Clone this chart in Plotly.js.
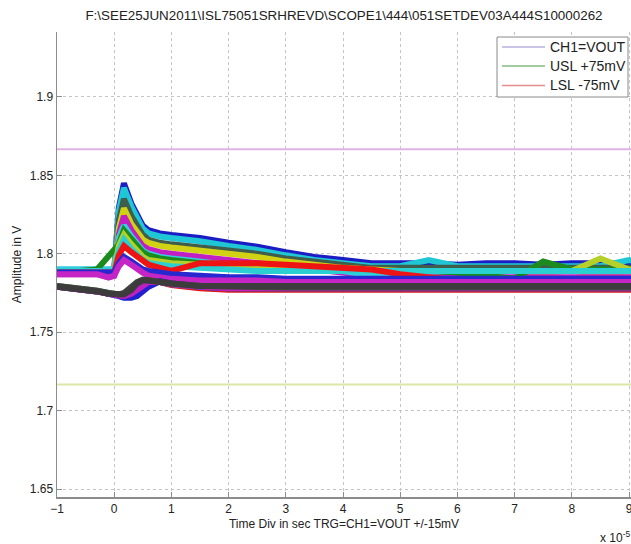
<!DOCTYPE html>
<html>
<head>
<meta charset="utf-8">
<script src="https://cdn.plot.ly/plotly-3.0.1.min.js"></script>
<style>
  html, body { margin: 0; padding: 0; background: #fff; }
  #chart { width: 631px; height: 544px; }
</style>
</head>
<body>
<div id="chart"></div>
<script>
// ---- Data (time in units of 1e-5 s, amplitude in V) ----
const chartTitle = "F:\\SEE25JUN2011\\ISL75051SRHREVD\\SCOPE1\\444\\051SETDEV03A444S10000262";
const timeDiv = [-1,-0.6,-0.3,-0.1,0,0.08,0.17,0.3,0.4,0.5,0.6,0.8,1,1.5,2,2.5,3,3.5,4,4.5,5,5.5,6,6.5,7,7.5,8,8.5,9,9.5];

const legendNames = ["CH1=VOUT", "USL +75mV", "LSL -75mV"];
const legendColors = ["#b6b2e2", "#80bb80", "#e58c8c"];

const uslValue = 1.8666;
const lslValue = 1.7166;

// upper group of captures (transient spike after trigger)
const vBlue1   = [1.789,1.789,1.789,1.789,1.789,1.829,1.845,1.832,1.825,1.818,1.815,1.813,1.812,1.810,1.807,1.8045,1.801,1.798,1.796,1.794,1.794,1.794,1.793,1.794,1.794,1.793,1.794,1.794,1.794,1.794];
const vCyan1   = [1.790,1.790,1.790,1.790,1.790,1.827,1.842,1.830,1.823,1.816,1.813,1.811,1.810,1.808,1.805,1.8025,1.799,1.796,1.794,1.792,1.792,1.796,1.792,1.792,1.792,1.792,1.792,1.792,1.796,1.792];
const vDark1   = [1.788,1.788,1.788,1.788,1.788,1.821,1.835,1.824,1.818,1.812,1.809,1.807,1.806,1.804,1.802,1.800,1.797,1.795,1.793,1.791,1.791,1.791,1.791,1.791,1.791,1.791,1.791,1.791,1.791,1.791];
const vYellow1 = [1.789,1.789,1.789,1.789,1.789,1.816,1.829,1.819,1.814,1.809,1.807,1.805,1.804,1.802,1.800,1.798,1.795,1.793,1.791,1.790,1.789,1.789,1.789,1.789,1.789,1.786,1.784,1.788,1.789,1.789];
const vMagenta1= [1.787,1.787,1.787,1.785,1.786,1.812,1.824,1.815,1.810,1.805,1.803,1.801,1.800,1.798,1.796,1.794,1.792,1.790,1.788,1.786,1.785,1.785,1.785,1.785,1.785,1.785,1.785,1.785,1.785,1.785];
const vCyan2   = [1.790,1.790,1.790,1.790,1.790,1.810,1.818,1.811,1.806,1.802,1.800,1.798,1.797,1.795,1.793,1.791,1.790,1.789,1.789,1.786,1.789,1.789,1.789,1.789,1.789,1.789,1.789,1.789,1.789,1.789];
const vGreen1  = [1.789,1.789,1.790,1.798,1.802,1.806,1.815,1.809,1.805,1.801,1.799,1.797,1.796,1.794,1.792,1.791,1.790,1.789,1.789,1.789,1.789,1.789,1.788,1.786,1.784,1.795,1.790,1.790,1.790,1.790];
const vYellow2 = [1.789,1.789,1.789,1.789,1.789,1.805,1.812,1.806,1.802,1.798,1.796,1.795,1.794,1.793,1.792,1.791,1.790,1.789,1.789,1.789,1.789,1.789,1.789,1.789,1.789,1.789,1.789,1.797,1.790,1.790];
const vCyan3   = [1.789,1.789,1.789,1.789,1.789,1.802,1.809,1.803,1.799,1.796,1.794,1.793,1.792,1.791,1.790,1.789,1.789,1.789,1.789,1.789,1.789,1.789,1.789,1.789,1.789,1.789,1.789,1.789,1.789,1.789];
const vRed1    = [1.788,1.788,1.788,1.788,1.788,1.799,1.805,1.801,1.798,1.795,1.793,1.791,1.789,1.794,1.794,1.794,1.793,1.792,1.791,1.790,1.787,1.785,1.783,1.783,1.783,1.783,1.783,1.783,1.783,1.783];
const vBlue2   = [1.788,1.788,1.788,1.788,1.788,1.794,1.798,1.795,1.792,1.790,1.789,1.788,1.787,1.786,1.785,1.785,1.784,1.784,1.784,1.784,1.784,1.784,1.784,1.784,1.784,1.784,1.784,1.784,1.784,1.784];
const vMagenta2= [1.787,1.787,1.787,1.785,1.786,1.792,1.796,1.793,1.790,1.788,1.786,1.785,1.784,1.783,1.783,1.783,1.782,1.782,1.782,1.782,1.782,1.782,1.782,1.782,1.782,1.782,1.782,1.782,1.782,1.782];

// lower group of captures (dip then step up after trigger)
const vRed2    = [1.779,1.7775,1.776,1.7745,1.774,1.7735,1.7735,1.776,1.7795,1.782,1.783,1.782,1.780,1.778,1.777,1.777,1.777,1.777,1.777,1.777,1.777,1.777,1.777,1.777,1.777,1.777,1.777,1.777,1.777,1.777];
const vGreen2  = [1.7795,1.778,1.7765,1.775,1.7745,1.774,1.7735,1.775,1.778,1.781,1.783,1.782,1.7805,1.779,1.778,1.778,1.778,1.778,1.778,1.778,1.778,1.778,1.778,1.778,1.778,1.778,1.778,1.778,1.778,1.778];
const vBlue3   = [1.779,1.7775,1.776,1.7745,1.774,1.773,1.772,1.772,1.773,1.776,1.779,1.7825,1.781,1.779,1.778,1.778,1.778,1.778,1.778,1.778,1.778,1.778,1.778,1.778,1.778,1.778,1.778,1.778,1.778,1.778];
const vMagenta3= [1.779,1.7775,1.776,1.7745,1.774,1.7735,1.773,1.7745,1.777,1.780,1.782,1.782,1.7805,1.779,1.778,1.778,1.778,1.778,1.778,1.778,1.778,1.778,1.778,1.778,1.778,1.778,1.778,1.778,1.778,1.778];
const vGray1   = [1.7795,1.778,1.7765,1.775,1.7745,1.774,1.775,1.779,1.782,1.7835,1.783,1.782,1.781,1.7795,1.779,1.7785,1.7785,1.7785,1.7785,1.7785,1.7785,1.7785,1.7785,1.7785,1.7785,1.7785,1.7785,1.7785,1.7785,1.7785];
const vGray2   = [1.779,1.7775,1.776,1.7745,1.774,1.7735,1.774,1.777,1.781,1.783,1.783,1.782,1.781,1.7795,1.7795,1.7795,1.7795,1.7795,1.7795,1.7795,1.7795,1.7795,1.7795,1.7795,1.7795,1.7795,1.7795,1.7795,1.7795,1.7795];

const captures = [
  [vBlue1, "#1c1cc4"], [vCyan1, "#1fc6d4"], [vDark1, "#3f5d4b"], [vYellow1, "#d2d214"],
  [vMagenta1, "#c21fc2"], [vCyan2, "#33cfe0"], [vGreen1, "#1d8a1d"], [vYellow2, "#b6d02a"],
  [vCyan3, "#2acfd2"], [vRed1, "#ee1414"], [vBlue2, "#2828d0"], [vMagenta2, "#c425c4"],
  [vRed2, "#e01818"], [vGreen2, "#218a21"], [vBlue3, "#2020d0"], [vMagenta3, "#c020c0"],
  [vGray1, "#444444"], [vGray2, "#3c3c3c"]
];

const FONT = "Liberation Sans, Arial, Helvetica, sans-serif";
const traces = [];

// limit lines
traces.push({x: [timeDiv[0], timeDiv[timeDiv.length-1]], y: [uslValue, uslValue], mode: "lines",
  line: {color: "#dfb2e6", width: 2}, showlegend: false, hoverinfo: "skip"});
traces.push({x: [timeDiv[0], timeDiv[timeDiv.length-1]], y: [lslValue, lslValue], mode: "lines",
  line: {color: "#dde6a6", width: 2}, showlegend: false, hoverinfo: "skip"});

captures.forEach(function (c) {
  traces.push({x: timeDiv, y: c[0], mode: "lines", line: {color: c[1], width: 6},
    showlegend: false, hoverinfo: "skip"});
});

// MATLAB-style compact legend box (paper coordinates)
const legBox = {x0: 0.7666, x1: 0.9948, y0: 0.8602, y1: 0.9892};
const legRowY = [0.9677, 0.9269, 0.8850];
const shapes = [{type: "rect", xref: "paper", yref: "paper",
  x0: legBox.x0, x1: legBox.x1, y0: legBox.y0, y1: legBox.y1,
  line: {color: "#8a8a8a", width: 1}, fillcolor: "#ffffff", layer: "above"}];
const annotations = [];
legendNames.forEach(function (n, i) {
  shapes.push({type: "line", xref: "paper", yref: "paper",
    x0: 0.7753, x1: 0.8502, y0: legRowY[i], y1: legRowY[i],
    line: {color: legendColors[i], width: 1.5}, layer: "above"});
  annotations.push({text: n, xref: "paper", yref: "paper", x: 0.8554, y: legRowY[i],
    xanchor: "left", yanchor: "middle", showarrow: false,
    font: {family: FONT, size: 14, color: "#222"}});
});
annotations.push({text: "x 10<sup>-5</sup>", xref: "paper", yref: "paper",
  x: 0.943, y: -0.085, xanchor: "left", yanchor: "middle", showarrow: false,
  font: {family: FONT, size: 12, color: "#222"}});

const layout = {
  width: 631, height: 544,
  margin: {l: 57, r: 0, t: 32, b: 47},
  paper_bgcolor: "#ffffff", plot_bgcolor: "#ffffff",
  font: {family: FONT, size: 12, color: "#222"},
  title: {text: chartTitle, font: {family: FONT, size: 13.4, color: "#222"},
    xref: "paper", x: 0.5, xanchor: "center", yref: "container", y: 0.972, yanchor: "middle"},
  xaxis: {
    range: [-1, 9.035], dtick: 1, tick0: 0,
    showline: true, linecolor: "#8c8c8c", linewidth: 1.5, mirror: false,
    ticks: "inside", ticklen: 5, tickcolor: "#8c8c8c",
    showgrid: true, gridcolor: "#c4c4c4", griddash: "dot", gridwidth: 1,
    zeroline: false, tickfont: {size: 12, color: "#222"},
    ticklabeloverflow: "allow",
    title: {text: "Time Div in sec TRG=CH1=VOUT +/-15mV", font: {size: 12, color: "#222"}, standoff: 4}
  },
  yaxis: {
    range: [1.6449, 1.9414], dtick: 0.05, tick0: 1.65,
    showline: true, linecolor: "#8c8c8c", linewidth: 1.5, mirror: false,
    ticks: "inside", ticklen: 5, tickcolor: "#8c8c8c",
    showgrid: true, gridcolor: "#c4c4c4", griddash: "dot", gridwidth: 1,
    zeroline: false, tickfont: {size: 12, color: "#222"},
    title: {text: "Amplitude in V", font: {size: 12, color: "#222"}, standoff: 5}
  },
  showlegend: false,
  shapes: shapes,
  annotations: annotations
};

Plotly.newPlot("chart", traces, layout, {staticPlot: true, displayModeBar: false});
</script>
</body>
</html>
